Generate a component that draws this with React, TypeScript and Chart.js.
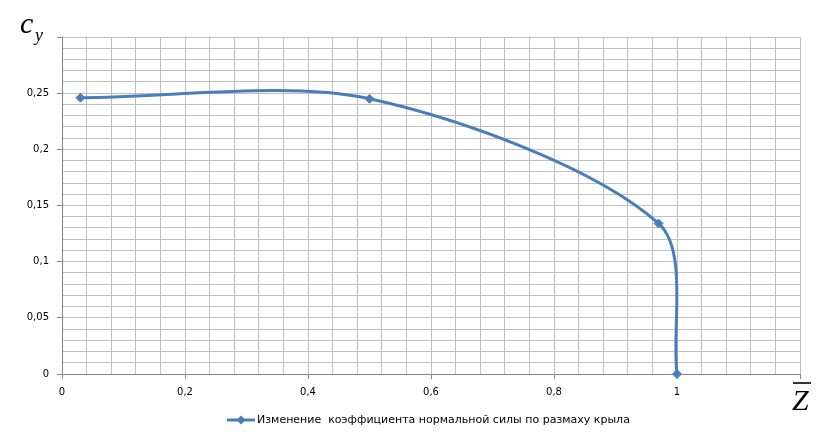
import { useEffect, useRef } from 'react';
import { Chart, registerables } from 'chart.js';

Chart.register(...registerables);

// ---- data ----
const seriesLabel = 'Изменение  коэффициента нормальной силы по размаху крыла';
const zValues = [0.03, 0.5, 0.97, 1];
const cyValues = [0.246, 0.245, 0.134, 0];
const xTickLabels = ['0', '0,2', '0,4', '0,6', '0,8', '1'];
const yTickLabels = ['0', '0,05', '0,1', '0,15', '0,2', '0,25'];
const xRange = [0, 1.2];
const yRange = [0, 0.3];
const xMinorStep = 0.04;
const yMinorStep = 0.01;
const minorPerMajor = 5;

const lineColor = '#4a7ebb';
const gridColor = '#c0c0c0';
const axisColor = '#868686';

function minorTicks(min: number, max: number, step: number) {
  const n = Math.round((max - min) / step);
  return Array.from({ length: n + 1 }, (_, i) => ({ value: +(min + i * step).toFixed(5) }));
}

const overlayPlugin = {
  id: 'overlayTexts',
  afterDraw(chart: any) {
    const ctx = chart.ctx as CanvasRenderingContext2D;
    ctx.save();
    // c_y axis title
    ctx.fillStyle = '#000';
    ctx.textBaseline = 'alphabetic';
    ctx.textAlign = 'left';
    ctx.font = 'italic 30px "Liberation Serif"';
    ctx.fillText('c', 20, 33);
    ctx.font = 'italic 18px "Liberation Serif"';
    ctx.fillText('y', 35, 41);
    // Z bar axis title
    ctx.font = 'italic 30px "Liberation Serif"';
    ctx.fillText('Z', 792, 410);
    ctx.strokeStyle = '#000';
    ctx.lineWidth = 1.6;
    ctx.beginPath();
    ctx.moveTo(793, 383);
    ctx.lineTo(811, 383);
    ctx.stroke();
    // legend
    const ds = chart.data.datasets[0];
    const ly = 420;
    ctx.strokeStyle = ds.borderColor;
    ctx.lineWidth = 3;
    ctx.beginPath();
    ctx.moveTo(227, ly);
    ctx.lineTo(255, ly);
    ctx.stroke();
    ctx.fillStyle = ds.pointBackgroundColor;
    ctx.beginPath();
    ctx.moveTo(241, ly - 4.5);
    ctx.lineTo(245.5, ly);
    ctx.lineTo(241, ly + 4.5);
    ctx.lineTo(236.5, ly);
    ctx.closePath();
    ctx.fill();
    ctx.fillStyle = '#000';
    ctx.font = '11px "DejaVu Sans"';
    ctx.textBaseline = 'middle';
    ctx.fillText(ds.label, 257, ly);
    ctx.restore();
  },
};

export default function App() {
  const ref = useRef<HTMLCanvasElement>(null);

  useEffect(() => {
    document.body.style.margin = '0';
    const canvas = ref.current!;
    const chart = new Chart(canvas, {
      type: 'line',
      data: {
        datasets: [
          {
            label: seriesLabel,
            data: zValues.map((x, i) => ({ x, y: cyValues[i] })),
            borderColor: lineColor,
            backgroundColor: lineColor,
            pointBackgroundColor: lineColor,
            pointBorderColor: lineColor,
            pointStyle: 'rectRot',
            pointRadius: 4.5,
            pointBorderWidth: 1,
            borderWidth: 3,
            tension: 0.3,
            clip: false as any,
          },
        ],
      },
      options: {
        animation: false,
        responsive: false,
        maintainAspectRatio: false,
        devicePixelRatio: 1,
        layout: { padding: { left: 0, right: 22, top: 37, bottom: 34 } },
        plugins: {
          legend: { display: false },
          tooltip: { enabled: false },
        },
        scales: {
          x: {
            type: 'linear',
            min: xRange[0],
            max: xRange[1],
            afterBuildTicks: (scale: any) => {
              scale.ticks = minorTicks(xRange[0], xRange[1], xMinorStep);
            },
            afterFit: (scale: any) => {
              scale.height = 30;
            },
            ticks: {
              autoSkip: false,
              maxRotation: 0,
              padding: 7,
              color: '#000',
              font: { family: '"DejaVu Sans"', size: 10 },
              callback: (_v: any, i: number) =>
                i % minorPerMajor === 0 ? xTickLabels[i / minorPerMajor] ?? '' : '',
            },
            grid: {
              color: gridColor,
              lineWidth: 1,
              tickLength: 5,
              tickColor: (c: any) => (c.index % minorPerMajor === 0 ? axisColor : 'rgba(0,0,0,0)'),
            },
            border: { color: axisColor, width: 1 },
          },
          y: {
            type: 'linear',
            min: yRange[0],
            max: yRange[1],
            afterBuildTicks: (scale: any) => {
              scale.ticks = minorTicks(yRange[0], yRange[1], yMinorStep);
            },
            afterFit: (scale: any) => {
              scale.width = 62;
            },
            ticks: {
              autoSkip: false,
              padding: 8,
              color: '#000',
              font: { family: '"DejaVu Sans"', size: 10 },
              callback: (_v: any, i: number) =>
                i % minorPerMajor === 0 ? yTickLabels[i / minorPerMajor] ?? '' : '',
            },
            grid: {
              color: gridColor,
              lineWidth: 1,
              tickLength: 5,
              tickColor: (c: any) => (c.index % minorPerMajor === 0 ? axisColor : 'rgba(0,0,0,0)'),
            },
            border: { color: axisColor, width: 1 },
          },
        },
      },
      plugins: [overlayPlugin],
    });
    return () => chart.destroy();
  }, []);

  return (
    <div style={{ position: 'absolute', left: 0, top: 0, width: 822, height: 438, background: '#fff' }}>
      <canvas ref={ref} width={822} height={438} style={{ width: 822, height: 438, display: 'block' }} />
    </div>
  );
}
